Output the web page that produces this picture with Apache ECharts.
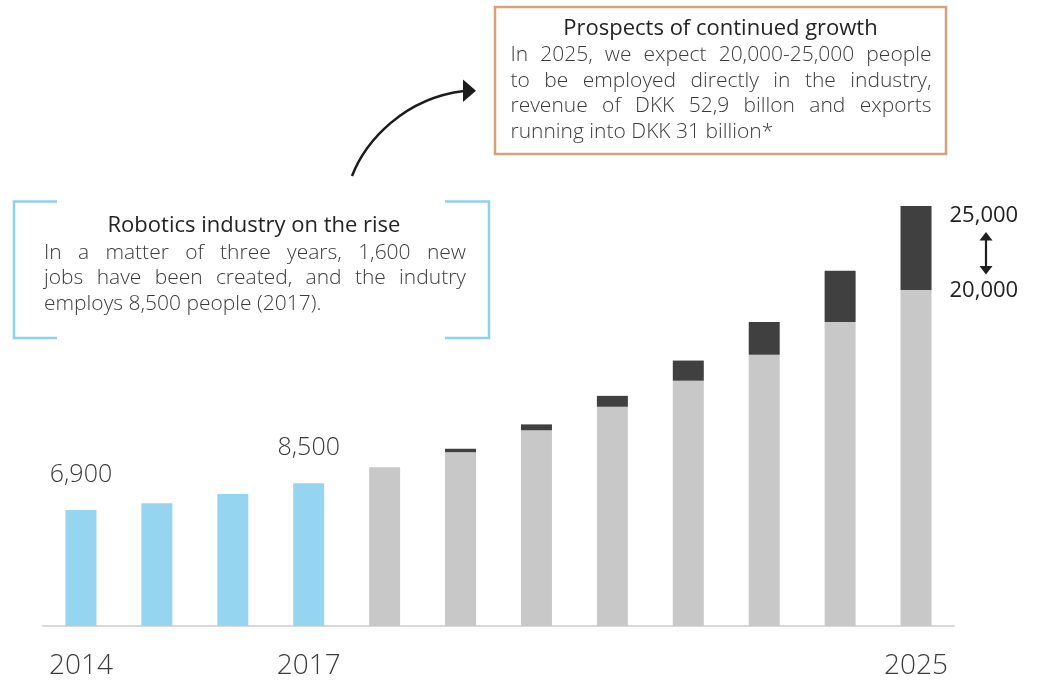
<!DOCTYPE html>
<html>
<head>
<meta charset="utf-8">
<script src="https://cdn.jsdelivr.net/npm/echarts@6/dist/echarts.min.js"></script>
<style>
  html, body { margin: 0; padding: 0; background: #ffffff; }
  #chart { width: 1051px; height: 688px; }
</style>
</head>
<body>
<div id="chart"></div>
<script>
// Employment in the Danish robotics industry, actual (2014-2017) and projected (2018-2025)
const years = ['2014', '2015', '2016', '2017', '2018', '2019', '2020', '2021', '2022', '2023', '2024', '2025'];
const employed = [6900, 7300, 7850, 8500, '-', '-', '-', '-', '-', '-', '-', '-'];
const projectedLow = ['-', '-', '-', '-', 9450, 10350, 11650, 13050, 14600, 16150, 18100, 20000];
const projectedUpside = ['-', '-', '-', '-', '-', 200, 350, 650, 1200, 1950, 3050, 5000];

const shownYears = ['2014', '2017', '2025'];
const valueLabelYears = ['2014', '2017'];
const rangeYear = '2025';

const leftTitle = 'Robotics industry on the rise';
const leftLines = [
  'In a matter of three years, 1,600 new',
  'jobs have been created, and the indutry',
  'employs 8,500 people (2017).'
];
const rightTitle = 'Prospects of continued growth';
const rightLines = [
  'In 2025, we expect 20,000-25,000 people',
  'to be employed directly in the industry,',
  'revenue of DKK 52,9 billon and exports',
  'running into DKK 31 billion*'
];

const FONT = "'Open Sans', 'Noto Sans', sans-serif";
const BLUE = '#96d5ef';
const GREY = '#c8c8c8';
const DARK = '#404040';
const TEXT = '#3c3c3c';
const TITLE = '#242424';

const fmt = v => Number(v).toLocaleString('en-US');
const rangeIdx = years.indexOf(rangeYear);

const measureCtx = document.createElement('canvas').getContext('2d');
function textWidth(text, font) {
  measureCtx.font = font;
  return measureCtx.measureText(text).width;
}

function textEl(text, x, y, font, color, align) {
  return {
    type: 'text', silent: true,
    style: {
      text: text, x: x, y: y, font: font, fill: color,
      align: align, textAlign: align,
      verticalAlign: 'middle', textVerticalAlign: 'middle'
    }
  };
}

// Justified paragraph: every line but the last is stretched to the full width
function paragraph(lines, left, right, y0, lineH, font, color) {
  const out = [];
  lines.forEach((line, i) => {
    const y = y0 + i * lineH;
    if (i === lines.length - 1) {
      out.push(textEl(line, left, y, font, color, 'left'));
      return;
    }
    const words = line.split(' ');
    const widths = words.map(w => textWidth(w, font));
    const total = widths.reduce((a, b) => a + b, 0);
    const gap = (right - left - total) / (words.length - 1);
    let x = left;
    words.forEach((w, j) => {
      out.push(textEl(w, x, y, font, color, 'left'));
      x += widths[j] + gap;
    });
  });
  return out;
}

const bodyFont = `300 21px ${FONT}`;
const titleFont = `500 22px ${FONT}`;

const graphics = [
  // left callout: open brackets
  { type: 'polyline', silent: true,
    shape: { points: [[57, 201.5], [14, 201.5], [14, 338], [57, 338]] },
    style: { stroke: '#8dd1ef', lineWidth: 2.5, fill: null } },
  { type: 'polyline', silent: true,
    shape: { points: [[445, 201.5], [489, 201.5], [489, 338], [445, 338]] },
    style: { stroke: '#8dd1ef', lineWidth: 2.5, fill: null } },
  textEl(leftTitle, 254, 225.5, titleFont, TITLE, 'center'),
  ...paragraph(leftLines, 44, 466, 253, 25.5, bodyFont, TEXT),

  // right callout: framed box
  { type: 'rect', silent: true,
    shape: { x: 495, y: 7, width: 451, height: 147 },
    style: { stroke: '#d6a27c', lineWidth: 2.5, fill: null } },
  textEl(rightTitle, 720.5, 28.5, titleFont, TITLE, 'center'),
  ...paragraph(rightLines, 510.5, 931.5, 55.5, 25.5, bodyFont, TEXT),

  // curved arrow linking the two callouts
  { type: 'bezierCurve', silent: true,
    shape: { x1: 352, y1: 176, cpx1: 366, cpy1: 140, cpx2: 405, cpy2: 98, x2: 464, y2: 91 },
    style: { stroke: '#1c1c1c', lineWidth: 2.6, fill: null } },
  { type: 'polygon', silent: true,
    shape: { points: [[463, 79.5], [476, 90.7], [463, 102]] },
    style: { fill: '#1c1c1c' } },

  // double-headed arrow for the 2025 range
  { type: 'line', silent: true,
    shape: { x1: 986, y1: 238, x2: 986, y2: 268 },
    style: { stroke: '#1f1f1f', lineWidth: 2.2 } },
  { type: 'polygon', silent: true,
    shape: { points: [[979.5, 240.5], [986, 232], [992.5, 240.5]] },
    style: { fill: '#1f1f1f' } },
  { type: 'polygon', silent: true,
    shape: { points: [[979.5, 266], [986, 274.5], [992.5, 266]] },
    style: { fill: '#1f1f1f' } }
];

const rangeLabel = {
  show: true,
  position: ['100%', 0],
  align: 'left',
  verticalAlign: 'middle',
  fontFamily: FONT,
  fontSize: 22,
  fontWeight: 500,
  color: '#222222'
};

const lowData = projectedLow.map((v, i) => i === rangeIdx
  ? { value: v, label: Object.assign({}, rangeLabel, { offset: [18, 1], formatter: p => fmt(p.value) }) }
  : v);
const upsideData = projectedUpside.map((v, i) => i === rangeIdx
  ? { value: v, label: Object.assign({}, rangeLabel, { offset: [18, 10],
      formatter: p => fmt(projectedLow[p.dataIndex] + p.value) }) }
  : v);

const chart = echarts.init(document.getElementById('chart'), null, { renderer: 'canvas' });
chart.setOption({
  animation: false,
  backgroundColor: '#ffffff',
  textStyle: { fontFamily: FONT },
  grid: { left: 43, right: 97, top: 206, bottom: 62 },
  xAxis: {
    type: 'category',
    data: years,
    boundaryGap: true,
    axisLine: { lineStyle: { color: '#d9d9d9', width: 2 } },
    axisTick: { show: false },
    axisLabel: {
      interval: 0,
      formatter: v => shownYears.includes(v) ? v : '',
      fontFamily: FONT,
      fontSize: 28,
      fontWeight: 300,
      color: TEXT,
      margin: 40,
      verticalAlign: 'middle'
    }
  },
  yAxis: { type: 'value', min: 0, max: 25000, show: false },
  series: [
    {
      name: 'Employed',
      type: 'bar',
      data: employed,
      barWidth: 31,
      barGap: '-100%',
      itemStyle: { color: BLUE },
      label: {
        show: true,
        position: 'top',
        distance: 23,
        fontFamily: FONT,
        fontSize: 25,
        fontWeight: 300,
        color: TEXT,
        formatter: p => valueLabelYears.includes(p.name) ? fmt(p.value) : ''
      }
    },
    {
      name: 'Projected',
      type: 'bar',
      stack: 'projection',
      data: lowData,
      barWidth: 31,
      barGap: '-100%',
      itemStyle: { color: GREY }
    },
    {
      name: 'Upside',
      type: 'bar',
      stack: 'projection',
      data: upsideData,
      barWidth: 31,
      barGap: '-100%',
      itemStyle: { color: DARK }
    }
  ],
  graphic: graphics
});
</script>
</body>
</html>
